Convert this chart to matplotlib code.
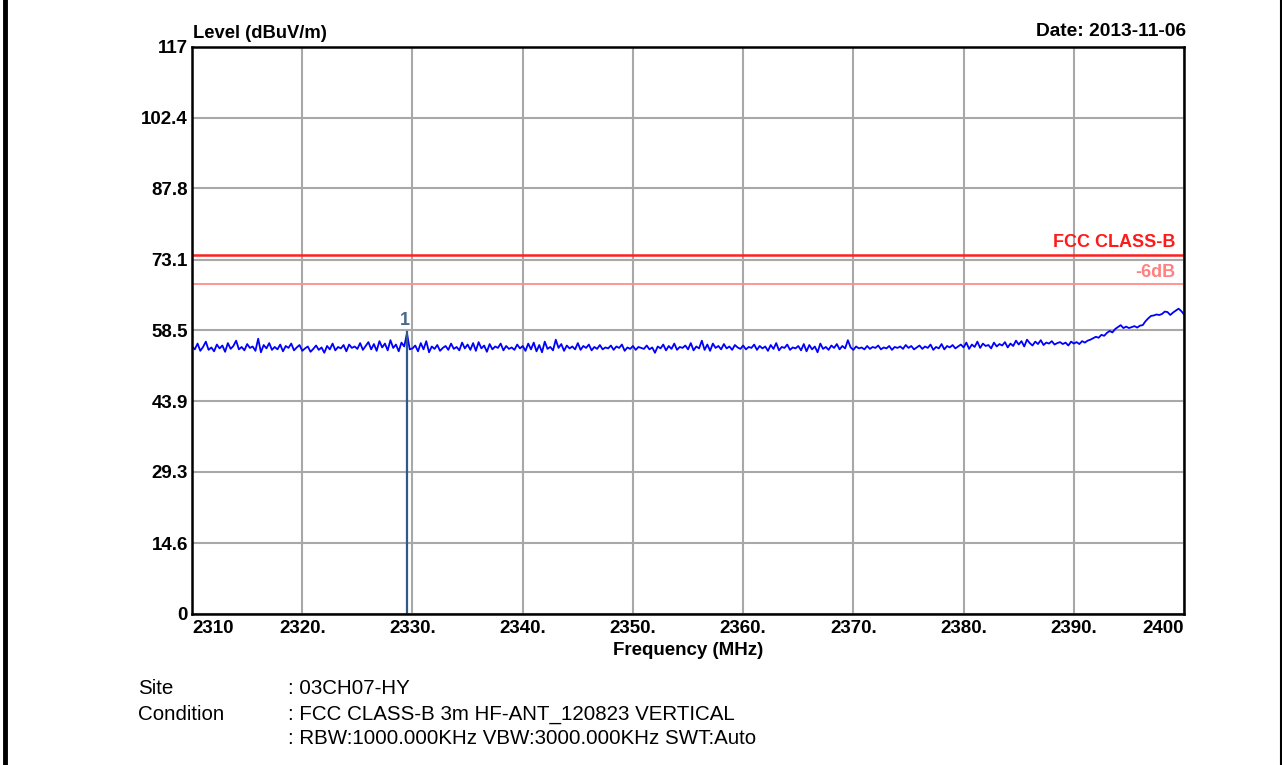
import numpy as np
import matplotlib
matplotlib.use("Agg")
import matplotlib.pyplot as plt
from matplotlib.lines import Line2D

plt.rcParams["font.family"] = ["Liberation Sans", "DejaVu Sans"]

# sweep start / step (MHz) and levels (dBuV/m)
F_START = 2310.0
F_STEP = 0.25
LEVELS = [
    55.2, 54.6, 55.8, 54.3, 55.1, 56.2, 54.5, 55.0, 54.2, 55.6, 54.8, 55.4, 54.1, 55.9, 54.7, 55.3, 56.4, 54.6, 55.1, 54.4,
    55.7, 54.9, 55.2, 54.3, 56.8, 54.0, 55.5, 54.8, 55.9, 54.5, 55.1, 54.6, 55.6, 54.2, 55.3, 54.9, 55.8, 54.4, 55.0, 55.5,
    54.3, 54.8, 55.2, 54.1, 54.7, 55.4, 54.5, 55.0, 53.9, 55.3, 54.6, 55.8, 54.4, 55.1, 54.8, 55.5, 54.2, 55.6, 54.9, 55.2,
    54.7, 55.9, 54.5, 55.3, 56.1, 54.6, 55.7, 54.3, 56.3, 55.0, 55.8, 54.4, 56.5, 54.9, 55.6, 54.2, 56.0, 55.2, 57.9, 54.6,
    54.8, 55.4, 54.2, 55.9, 54.6, 56.3, 54.0, 55.2, 54.7, 55.5, 54.3, 54.9, 55.3, 54.5, 55.8, 54.7, 55.1, 54.4, 56.0, 54.8,
    55.6, 54.5, 55.9, 54.3, 56.1, 54.8, 55.4, 54.1, 55.7, 54.6, 55.2, 54.9, 55.8, 54.4, 55.3, 54.7, 55.0, 54.5, 55.6, 54.8,
    55.3, 54.3, 55.8, 54.6, 56.0, 54.2, 55.5, 54.0, 56.2, 54.7, 55.1, 54.4, 56.6, 54.9, 55.7, 54.3, 55.4, 54.8, 55.2, 54.6,
    55.9, 54.5, 55.3, 54.9, 55.6, 54.4, 55.1, 54.7, 55.5, 54.6, 55.0, 54.8, 55.4, 54.5, 55.2, 54.9, 55.6, 54.3, 55.0, 54.7,
    55.3, 54.5, 55.1, 54.9, 54.7, 55.4, 54.6, 55.0, 53.9, 55.2, 54.8, 55.6, 54.4, 55.3, 54.7, 55.8, 54.5, 55.1, 54.9, 55.4,
    54.6, 55.9, 54.4, 55.2, 54.8, 56.4, 54.5, 55.6, 54.3, 55.8, 54.9, 55.3, 54.6, 55.7, 54.8, 55.2, 54.5, 55.5, 55.0, 54.7,
    55.4, 54.6, 55.1, 54.9, 55.6, 54.5, 55.3, 54.8, 55.2, 54.3, 55.5, 54.7, 55.9, 54.4, 55.1, 54.9, 55.6, 54.5, 55.0, 54.8,
    55.3, 54.4, 55.7, 54.2, 55.5, 54.6, 55.2, 54.0, 55.8, 54.7, 55.1, 54.5, 55.4, 54.9, 55.7, 54.6, 55.3, 54.8, 56.5, 55.0,
    54.5, 55.2, 54.8, 55.0, 54.6, 55.3, 54.7, 55.1, 54.9, 55.4, 54.6, 55.0, 54.8, 55.3, 54.5, 55.1, 54.9, 55.2, 54.7, 55.5,
    54.9, 55.3, 54.6, 55.0, 55.4, 54.7, 55.2, 54.9, 55.6, 54.5, 55.1, 54.8, 55.7, 54.6, 55.3, 55.0, 55.5, 54.8, 55.2, 55.6,
    55.0, 56.0, 54.7, 55.6, 55.1, 56.2, 54.9, 55.8, 55.3, 55.5, 54.8, 56.0, 55.2, 55.7, 55.4, 56.1, 55.0, 55.8, 55.3, 56.4,
    55.6, 56.3, 55.2, 56.6, 55.9, 55.4, 56.2, 55.7, 56.5, 55.5, 56.0, 55.8, 56.3, 55.6, 55.9, 56.1, 55.7, 56.0, 55.4, 56.2,
    55.8, 56.1, 55.7, 56.3, 56.0, 56.4, 56.6, 56.9, 57.2, 57.0, 57.6, 57.4, 58.0, 58.4, 58.1, 58.8, 59.2, 59.6, 59.0, 59.3,
    59.0, 59.2, 59.4, 59.1, 59.5, 59.6, 60.4, 61.0, 61.5, 61.6, 61.8, 61.7, 61.9, 62.4, 62.3, 61.7, 62.2, 62.6, 63.0, 62.5,
    61.8,
]

LIMIT = 74.0
LIMIT_MARGIN = 68.0
MARKER_FREQ = 2329.5
MARKER_LEVEL = 58.2
MARKER_NAME = "1"

Y_TICKS = [0, 14.6, 29.3, 43.9, 58.5, 73.1, 87.8, 102.4, 117]
Y_LABELS = ["0", "14.6", "29.3", "43.9", "58.5", "73.1", "87.8", "102.4", "117"]
X_TICKS = [2310, 2320, 2330, 2340, 2350, 2360, 2370, 2380, 2390, 2400]
X_LABELS = ["2310", "2320.", "2330.", "2340.", "2350.", "2360.", "2370.", "2380.", "2390.", "2400"]

freqs = F_START + F_STEP * np.arange(len(LEVELS))

fig = plt.figure(figsize=(12.82, 7.65), dpi=100)
ax = fig.add_axes([0.1498, 0.1974, 0.7738, 0.7412])

ax.set_xlim(2310, 2400)
ax.set_ylim(0, 117)
ax.set_xticks(X_TICKS)
ax.set_yticks(Y_TICKS)
ax.set_xticklabels(X_LABELS, fontsize=13.5, fontweight="bold")
ax.set_yticklabels(Y_LABELS, fontsize=13.5, fontweight="bold")
ax.tick_params(length=0, pad=4)
ax.tick_params(axis="y", pad=3)
xl = ax.get_xticklabels()
xl[0].set_horizontalalignment("left")
xl[-1].set_horizontalalignment("right")

ax.grid(True, color="#a8a8a8", linewidth=1.5)
ax.set_axisbelow(True)
for s in ax.spines.values():
    s.set_linewidth(1.8)
    s.set_color("black")

# limit lines
ax.axhline(LIMIT, color="#ff2020", linewidth=1.8)
ax.axhline(LIMIT_MARGIN, color="#ff8c8c", linewidth=1.3)
ax.text(2399.2, LIMIT + 0.8, "FCC CLASS-B", color="#ff1a1a", fontsize=13,
        fontweight="bold", ha="right", va="bottom")
ax.text(2399.2, LIMIT_MARGIN + 0.8, "-6dB", color="#ff8080", fontsize=13,
        fontweight="bold", ha="right", va="bottom")

# trace
ax.plot(freqs, LEVELS, color="#0000ff", linewidth=1.3)

# marker
ax.plot([MARKER_FREQ, MARKER_FREQ], [0, MARKER_LEVEL], color="#2e5a87", linewidth=1.6)
ax.text(MARKER_FREQ - 0.15, MARKER_LEVEL + 0.6, MARKER_NAME, color="#4a6a8a",
        fontsize=13, fontweight="bold", ha="center", va="bottom")

ax.set_xlabel("Frequency (MHz)", fontsize=13.5, fontweight="bold", labelpad=4)
fig.text(0.1498 + 0.001, 0.945, "Level (dBuV/m)", fontsize=13.2, fontweight="bold",
         ha="left", va="bottom")
fig.text(0.925, 0.948, "Date: 2013-11-06", fontsize=13.8, fontweight="bold",
         ha="right", va="bottom")

# info block
info_rows = [
    ("Site", ": 03CH07-HY"),
    ("Condition", ": FCC CLASS-B 3m HF-ANT_120823 VERTICAL"),
    ("", ": RBW:1000.000KHz VBW:3000.000KHz SWT:Auto"),
]
y0 = 1 - 689 / 765
for i, (k, v) in enumerate(info_rows):
    yy = y0 - i * 25 / 765
    fig.text(138 / 1282, yy, k, fontsize=14.8, ha="left", va="center")
    fig.text(288 / 1282, yy, v, fontsize=14.8, ha="left", va="center")

# page border
fig.add_artist(Line2D([5 / 1282, 5 / 1282], [0, 1], color="black", linewidth=3.5))
fig.add_artist(Line2D([1281 / 1282, 1281 / 1282], [0, 1], color="black", linewidth=1.5))

fig.savefig("out.png", dpi=100)
